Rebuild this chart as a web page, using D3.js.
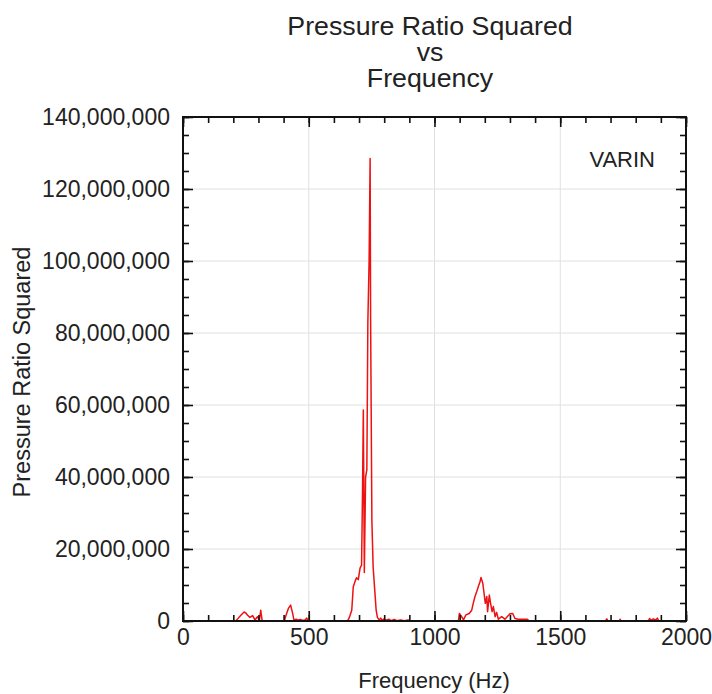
<!DOCTYPE html>
<html>
<head>
<meta charset="utf-8">
<script src="https://cdn.jsdelivr.net/npm/d3@7"></script>
<style>
  body { margin: 0; background: #fff; }
  svg { font-family: "Liberation Sans", Arial, Helvetica, sans-serif; }
</style>
</head>
<body>
<div id="chart"></div>
<script>
// Frequenz (Hz) und Druckverhaeltnis^2 (in Millionen)
const freqHz = [
  0, 210, 220, 230, 243, 250, 257, 266, 277, 286, 296, 304, 309, 315,
  403, 410, 419, 428, 436, 441, 450, 458, 465, 475, 485, 492, 498,
  650, 657, 664, 671, 677, 684, 690, 697, 704, 710, 714, 717, 721, 726, 731,
  735, 740, 744, 746, 751, 756, 762, 768, 773, 780, 786, 792, 800, 808, 818,
  828, 840, 850, 865, 880, 895, 905,
  1095, 1099, 1108, 1115, 1125, 1138, 1148, 1154, 1161, 1168, 1174, 1181,
  1185, 1192, 1197, 1202, 1208, 1211, 1218, 1223, 1229, 1234, 1241, 1247,
  1254, 1267, 1280, 1300, 1311, 1320, 1333, 1353, 1369, 1377,
  1680, 1685, 1690, 1735, 1738, 1742, 1850, 1855, 1862, 1870, 1880, 1886,
  1892, 2000
];
const pressureSqM = [
  0, 0, 0.8, 1.6, 2.5, 2.2, 1.6, 1.0, 1.5, 0.3, 1.2, 0.2, 3.0, 0,
  0, 1.7, 3.5, 4.4, 2.1, 0.3, 0.5, 0.2, 0.4, 0.2, 0.3, 0.8, 0,
  0, 0.3, 1.5, 3.0, 9.5, 11.0, 12.0, 11.5, 14.7, 15.5, 37.0, 58.6, 13.5, 40.0, 42.0,
  83.0, 100.0, 128.5, 83.6, 28.0, 15.0, 9.0, 3.0, 1.0, 0.3, 0.8, 0.2, 0.6, 0.2, 0.5,
  0.1, 0.4, 0.1, 0.3, 0.1, 0.3, 0,
  0, 2.1, 1.2, 0.3, 1.7, 2.1, 3.0, 4.9, 6.8, 8.2, 9.5, 10.9,
  12.1, 10.5, 7.7, 4.9, 6.8, 2.6, 7.2, 4.9, 2.6, 4.0, 1.2, 2.4,
  0.5, 1.2, 0.5, 2.0, 2.1, 0.7, 0.5, 0.5, 0.5, 0,
  0, 0.6, 0, 0, 0.5, 0, 0, 0.7, 0.2, 0.6, 0.3, 0.8,
  0, 0
];

const xMajor = [0, 500, 1000, 1500, 2000];
const yMajorM = [0, 20, 40, 60, 80, 100, 120, 140];
const titleLines = ["Pressure Ratio Squared", "vs", "Frequency"];

const width = 712, height = 694;
const plotLeft = 183, plotRight = 686, plotTop = 117, plotBottom = 621;

const svg = d3.select("#chart").append("svg")
  .attr("width", width)
  .attr("height", height);

const x = d3.scaleLinear().domain([0, 2000]).range([plotLeft, plotRight]);
const y = d3.scaleLinear().domain([0, 140]).range([plotBottom, plotTop]);

// Gitterlinien
svg.append("g").selectAll("line")
  .data(xMajor.slice(1, -1))
  .enter().append("line")
  .attr("x1", d => x(d)).attr("x2", d => x(d))
  .attr("y1", plotTop).attr("y2", plotBottom)
  .attr("stroke", "#e0e0e0").attr("stroke-width", 1);

svg.append("g").selectAll("line")
  .data(yMajorM.slice(1, -1))
  .enter().append("line")
  .attr("x1", plotLeft).attr("x2", plotRight)
  .attr("y1", d => y(d)).attr("y2", d => y(d))
  .attr("stroke", "#e0e0e0").attr("stroke-width", 1);

// Datenlinie
const points = freqHz.map((f, i) => [f, pressureSqM[i]]);
const line = d3.line().x(d => x(d[0])).y(d => y(d[1]));

svg.append("path")
  .datum(points)
  .attr("d", line)
  .attr("fill", "none")
  .attr("stroke", "#ee1111")
  .attr("stroke-width", 1.5)
  .attr("stroke-linejoin", "round");

// Achsen mit nach innen zeigenden Ticks (Haupt- und Nebenticks, alle vier Seiten)
function styleAxis(g) {
  g.select(".domain").remove();
  g.selectAll(".tick line").attr("stroke", "#111").attr("stroke-width", 1.6);
  g.selectAll("text").attr("fill", "#222").style("font-size", "23px");
}

const xMinor = d3.range(0, 2001, 100);
const yMinor = d3.range(0, 141, 5);

svg.append("g").attr("transform", `translate(0,${plotBottom})`)
  .call(d3.axisBottom(x).tickValues(xMinor).tickSize(-6).tickFormat(""))
  .call(styleAxis);
svg.append("g").attr("transform", `translate(0,${plotBottom})`)
  .call(d3.axisBottom(x).tickValues(xMajor).tickSizeInner(-10).tickPadding(8).tickFormat(d3.format("d")))
  .call(styleAxis);
svg.append("g").attr("transform", `translate(0,${plotTop})`)
  .call(d3.axisTop(x).tickValues(xMinor).tickSize(-6).tickFormat(""))
  .call(styleAxis);
svg.append("g").attr("transform", `translate(0,${plotTop})`)
  .call(d3.axisTop(x).tickValues(xMajor).tickSize(-10).tickFormat(""))
  .call(styleAxis);

svg.append("g").attr("transform", `translate(${plotLeft},0)`)
  .call(d3.axisLeft(y).tickValues(yMinor).tickSize(-6).tickFormat(""))
  .call(styleAxis);
svg.append("g").attr("transform", `translate(${plotLeft},0)`)
  .call(d3.axisLeft(y).tickValues(yMajorM).tickSizeInner(-10).tickPadding(13)
    .tickFormat(d => d3.format(",")(d * 1e6)))
  .call(styleAxis);
svg.append("g").attr("transform", `translate(${plotRight},0)`)
  .call(d3.axisRight(y).tickValues(yMinor).tickSize(-6).tickFormat(""))
  .call(styleAxis);
svg.append("g").attr("transform", `translate(${plotRight},0)`)
  .call(d3.axisRight(y).tickValues(yMajorM).tickSize(-10).tickFormat(""))
  .call(styleAxis);

// Rahmen
svg.append("rect")
  .attr("x", plotLeft).attr("y", plotTop)
  .attr("width", plotRight - plotLeft).attr("height", plotBottom - plotTop)
  .attr("fill", "none").attr("stroke", "#111").attr("stroke-width", 2);

// Titel (ein Textelement, drei Zeilen)
svg.append("text")
  .attr("transform", "translate(430,0) scale(1.07,1)")
  .attr("text-anchor", "middle")
  .attr("fill", "#222")
  .style("font-size", "25px")
  .selectAll("tspan")
  .data(titleLines)
  .enter().append("tspan")
  .attr("x", 0)
  .attr("y", (d, i) => 35 + i * 26.2)
  .text(d => d);

// Achsenbeschriftungen
svg.append("text")
  .attr("x", 434).attr("y", 688)
  .attr("text-anchor", "middle")
  .attr("fill", "#222")
  .style("font-size", "22px")
  .text("Frequency (Hz)");

svg.append("text")
  .attr("transform", `translate(30,${(plotTop + plotBottom) / 2 + 3}) rotate(-90)`)
  .attr("text-anchor", "middle")
  .attr("fill", "#222")
  .style("font-size", "23.5px")
  .text("Pressure Ratio Squared");

svg.append("text")
  .attr("x", 655).attr("y", 167)
  .attr("text-anchor", "end")
  .attr("fill", "#222")
  .style("font-size", "22px")
  .text("VARIN");
</script>
</body>
</html>
